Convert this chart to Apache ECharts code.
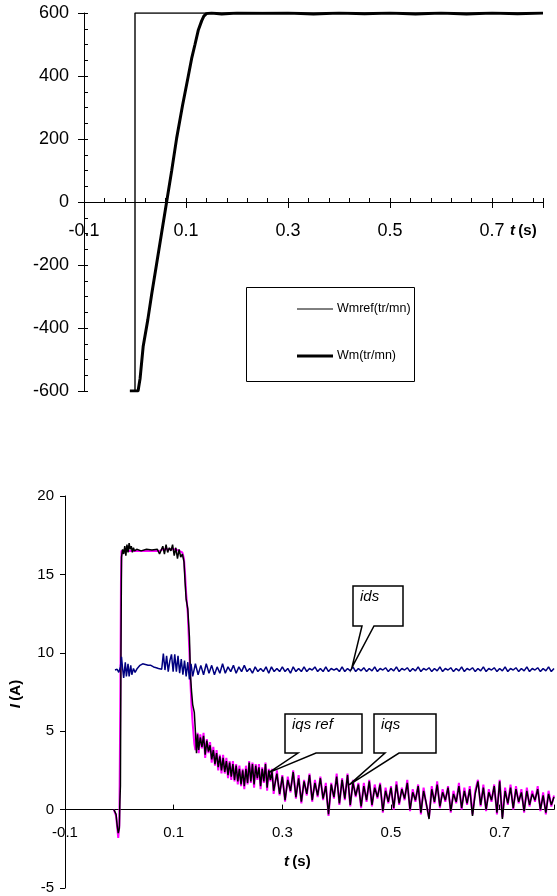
<!DOCTYPE html>
<html><head><meta charset="utf-8">
<script src="https://cdn.jsdelivr.net/npm/echarts@6/dist/echarts.min.js"></script>
<style>html,body{margin:0;padding:0;background:#fff}#c{width:557px;height:896px}</style>
</head><body><div id="c"></div>
<script>
// ---------- Top chart: speed ----------
const xTickLabels = [-0.1, 0.1, 0.3, 0.5, 0.7];
const legendNames = ['Wmref(tr/mn)', 'Wm(tr/mn)'];
const wmrefT = [-0.010, 0.000, 0.000, 0.800];
const wmrefV = [-600, -600, 600, 600];
const wmT = [-0.010, 0.006, 0.010, 0.016, 0.025, 0.033, 0.0425, 0.052, 0.062, 0.072, 0.0816, 0.093, 0.1045, 0.111, 0.1176, 0.124, 0.1307, 0.135, 0.140, 0.150, 0.170, 0.200, 0.250, 0.300, 0.350, 0.400, 0.450, 0.500, 0.550, 0.600, 0.650, 0.700, 0.750, 0.800];
const wmV = [-600, -600, -560, -459, -375, -290, -195, -100, 0, 100, 202, 305, 400, 455, 500, 545, 575, 590, 598, 600, 597, 600, 599, 600, 597, 600, 598, 600, 597, 600, 597, 600, 598, 600];

// ---------- Bottom chart: currents ----------
const idsData = [[-0.008,8.9],[-0.004,8.95],[-0.001,8.75],[0.002,9.1],[0.004,9.75],[0.006,9.0],[0.008,8.4],[0.011,9.4],[0.013,8.5],[0.016,9.3],[0.018,8.5],[0.021,9.2],[0.023,8.6],[0.026,9.0],[0.029,8.75],[0.033,9.0],[0.038,9.2],[0.043,9.3],[0.048,9.25],[0.053,9.2],[0.058,9.2],[0.063,9.1],[0.068,9.05],[0.072,9.0],[0.075,9.1],[0.078,8.95],[0.081,9.95],[0.084,8.9],[0.087,9.8],[0.090,8.8],[0.093,9.5],[0.096,9.9],[0.099,8.8],[0.102,9.9],[0.105,8.8],[0.108,9.8],[0.111,8.7],[0.114,9.6],[0.117,8.6],[0.120,9.5],[0.123,8.5],[0.126,9.4],[0.129,8.3],[0.132,9.3],[0.135,8.5],
[0.140,9.3],[0.145,8.6],[0.150,9.2],[0.155,8.6],[0.160,9.3],[0.165,8.7],[0.170,9.2],[0.175,8.6],[0.180,9.1],[0.185,8.7],[0.190,9.3],[0.195,8.7],[0.200,9.1],[0.205,8.8],[0.210,9.2],[0.215,8.7],[0.220,9.1],[0.225,8.8],[0.230,9.2],[0.235,8.8],[0.240,9.0],[0.245,8.7],[0.250,9.1],[0.255,8.8],[0.260,9.0],[0.265,8.8],[0.270,9.1],[0.275,8.7],[0.280,9.1],[0.285,8.8],[0.290,9.0],[0.295,8.8],[0.300,9.1],[0.305,8.8],[0.310,9.0],[0.315,8.7],[0.320,9.1],[0.325,8.8],[0.330,9.0],[0.335,8.8],[0.340,9.1],[0.345,8.8],[0.350,9.0],[0.355,8.9],[0.360,9.1],[0.365,8.8],[0.370,9.0],[0.375,8.8],[0.380,9.1],[0.385,8.8],[0.390,9.0],[0.395,8.9],[0.400,9.0],[0.405,8.8],[0.410,9.1],[0.415,8.8],[0.420,9.0],[0.425,8.85],[0.430,9.1],[0.435,8.8],[0.440,9.0],[0.445,8.85],[0.450,9.05],[0.455,8.8],[0.460,9.0],[0.465,8.85],[0.470,9.1],[0.475,8.8],[0.480,9.0],[0.485,8.9],[0.490,9.05],[0.495,8.8],[0.500,9.0],[0.505,8.85],[0.510,9.1],[0.515,8.8],[0.520,9.0],[0.525,8.9],[0.530,9.05],[0.535,8.8],[0.540,9.0],[0.545,8.85],[0.550,9.1],[0.555,8.8],[0.560,9.0],[0.565,8.9],[0.570,9.05],[0.575,8.8],[0.580,9.0],[0.585,8.85],[0.590,9.1],[0.595,8.8],[0.600,9.0],[0.605,8.9],[0.610,9.05],[0.615,8.8],[0.620,9.0],[0.625,8.85],[0.630,9.1],[0.635,8.8],[0.640,9.0],[0.645,8.9],[0.650,9.05],[0.655,8.8],[0.660,9.0],[0.665,8.85],[0.670,9.1],[0.675,8.8],[0.680,9.0],[0.685,8.9],[0.690,9.05],[0.695,8.8],[0.700,9.0],[0.705,8.85],[0.710,9.1],[0.715,8.8],[0.720,9.0],[0.725,8.9],[0.730,9.05],[0.735,8.8],[0.740,9.0],[0.745,8.85],[0.750,9.1],[0.755,8.8],[0.760,9.0],[0.765,8.9],[0.770,9.05],[0.775,8.8],[0.780,9.0],[0.785,8.85],[0.790,9.1],[0.795,8.8],[0.800,9.0]];

const iqsT = [-0.010,-0.006,-0.004,-0.002,0.000,0.001,0.002,0.003,0.004,0.006,0.008,0.010,0.012,0.014,0.016,0.018,0.020,0.022,0.024,0.026,0.028,0.032,0.040,0.050,0.060,0.070,0.074,0.077,0.080,0.083,0.086,0.089,0.092,0.095,0.098,0.101,0.104,0.107,0.110,0.113,0.116,0.119,0.121,0.123,0.126,0.129,0.131,0.133,0.135,0.138,0.140,0.142,0.144,0.146,0.149,0.152,0.155,0.158,0.161,0.164,0.167,0.170,0.173,0.176,0.179,0.182,0.185,0.188,0.191,0.194,0.197,0.200,0.203,0.206,0.209,0.212,0.215,0.218,0.221,0.224,0.227,0.230,0.233,0.236,0.239,0.242,0.245,0.248,0.251,0.254,0.257,0.260,0.263,0.266,0.269,0.272,0.275,0.278,0.281,0.284,
0.290,0.295,0.300,0.305,0.310,0.315,0.320,0.325,0.330,0.335,0.340,0.345,0.350,0.355,0.360,0.365,0.370,0.375,0.380,0.385,0.390,0.395,0.400,0.405,0.410,0.415,0.420,0.425,0.430,0.435,0.440,0.445,0.450,0.455,0.460,0.465,0.470,0.475,0.480,0.485,0.490,0.495,0.500,0.505,0.510,0.515,0.520,0.525,0.530,0.535,0.540,0.545,0.550,0.555,0.560,0.565,0.570,0.575,0.580,0.585,0.590,0.595,0.600,0.605,0.610,0.615,0.620,0.625,0.630,0.635,0.640,0.645,0.650,0.655,0.660,0.665,0.670,0.675,0.680,0.685,0.690,0.695,0.700,0.705,0.710,0.715,0.720,0.725,0.730,0.735,0.740,0.745,0.750,0.755,0.760,0.765,0.770,0.775,0.780,0.785,0.790,0.795,0.800];
const iqsV = [0.0,-0.3,-1.0,-1.5,-1.2,0.5,1.5,10.0,16.1,16.6,16.3,16.8,16.2,16.9,16.4,17.0,16.6,16.8,16.4,16.7,16.5,16.6,16.5,16.6,16.55,16.6,16.3,16.2,16.8,16.3,16.9,16.4,16.7,16.5,16.9,16.2,16.7,16.0,16.6,16.1,16.3,15.8,14.5,13.4,12.8,11.0,8.5,7.5,6.7,6.2,5.0,3.6,4.8,3.8,4.6,4.0,4.7,3.5,4.4,3.7,4.1,3.2,3.8,2.9,3.6,2.7,3.4,2.5,3.3,2.4,3.1,2.2,3.0,2.1,2.9,1.9,2.8,1.8,2.6,1.6,2.5,1.5,2.6,1.7,3.0,1.8,2.9,1.6,2.8,2.0,2.7,1.5,2.6,1.8,2.9,1.4,2.5,1.9,2.4,1.2,
2.3,1.0,2.1,0.6,1.9,1.2,2.4,0.8,2.0,0.5,1.8,1.0,2.2,0.6,1.7,0.9,2.0,0.7,1.5,-0.3,1.6,0.8,2.1,0.4,1.9,0.7,2.2,0.3,1.7,0.9,1.6,0.2,1.5,0.6,1.8,0.3,1.4,0.8,1.6,-0.1,1.2,0.5,1.4,0.1,1.6,0.4,1.3,0.7,1.7,0.0,1.1,0.6,1.5,-0.2,1.2,0.4,-0.6,1.3,0.5,1.6,0.2,1.1,0.6,1.4,-0.1,1.0,0.5,1.5,0.1,1.2,0.4,1.3,-0.4,1.0,1.8,0.3,1.4,0.0,1.1,0.6,1.5,-0.2,1.8,-0.6,1.2,0.4,1.4,0.1,1.3,0.5,1.1,-0.1,1.2,0.3,1.0,0.6,1.3,0.0,0.9,-0.2,1.0,0.3,0.8];
const iqsRefV = [0.0,-0.4,-1.1,-1.8,-1.0,3.3,8.0,14.5,16.5,16.5,16.5,16.5,16.5,16.6,16.5,16.6,16.5,16.5,16.5,16.5,16.5,16.5,16.5,16.5,16.5,16.5,16.5,16.5,16.6,16.5,16.6,16.5,16.6,16.5,16.6,16.5,16.6,16.5,16.5,16.5,16.4,16.0,15.0,13.8,12.5,10.0,8.0,6.5,5.5,4.2,3.8,4.0,4.9,3.6,4.8,3.9,4.9,3.3,4.5,3.6,4.3,3.0,4.0,2.8,3.8,2.5,3.5,2.3,3.5,2.3,3.3,2.0,3.1,1.9,3.1,1.8,2.9,1.6,2.8,1.5,2.6,1.3,2.8,1.6,3.1,1.7,3.0,1.4,2.9,1.9,2.9,1.3,2.7,1.7,3.0,1.2,2.6,1.8,2.6,1.0,
2.5,0.9,2.2,0.5,2.1,1.1,2.5,0.7,2.2,0.4,1.9,0.9,2.3,0.5,1.9,0.8,2.1,0.6,1.7,-0.4,1.7,0.7,2.3,0.3,2.0,0.6,2.3,0.2,1.9,0.8,1.7,0.1,1.7,0.5,1.9,0.2,1.6,0.7,1.7,-0.2,1.4,0.4,1.5,0.0,1.8,0.3,1.4,0.6,1.9,-0.1,1.3,0.5,1.6,-0.3,1.4,0.3,-0.5,1.5,0.4,1.8,0.1,1.3,0.5,1.5,-0.2,1.2,0.4,1.7,0.0,1.4,0.3,1.5,-0.3,1.2,1.9,0.2,1.6,-0.1,1.3,0.5,1.6,-0.3,1.9,-0.5,1.4,0.3,1.6,0.0,1.5,0.4,1.3,-0.2,1.4,0.2,1.2,0.5,1.5,-0.1,1.1,-0.3,1.2,0.2,0.9];

const zip = (t, v) => t.map((x, i) => [x, v[i]]);
const FONT = "'Liberation Sans', Arial, sans-serif";
const xFmt = v => xTickLabels.some(l => Math.abs(l - v) < 1e-6) ? String(Math.round(v * 10) / 10) : '';

const chart = echarts.init(document.getElementById('c'), null, {renderer: 'canvas'});
const lineAx = {show: true, lineStyle: {color: '#000', width: 1}};
const gridTop = {left: 84, right: 14, top: 13, height: 378};
const gridBot = {left: 65, right: 1.5, top: 496, height: 392};
chart.setOption({
  animation: false,
  backgroundColor: '#fff',
  grid: [gridTop, gridBot],
  xAxis: [
    {type: 'value', gridIndex: 0, min: -0.1, max: 0.8, interval: 0.2, position: 'bottom',
     axisLine: Object.assign({onZero: true}, lineAx),
     axisTick: {show: true, inside: false, length: 6, interval: (i, v) => xFmt(v) !== '', lineStyle: {color: '#000'}},
     axisLabel: {show: false}, splitLine: {show: false}},
    {type: 'value', gridIndex: 0, min: -0.1, max: 0.8, interval: 0.04, position: 'bottom',
     axisLine: {show: false, onZero: true},
     axisTick: {show: true, inside: true, length: 4, lineStyle: {color: '#000'}},
     axisLabel: {show: false}, splitLine: {show: false}},
    {type: 'value', gridIndex: 1, min: -0.1, max: 0.8, interval: 0.2, position: 'bottom',
     axisLine: Object.assign({onZero: true}, lineAx),
     axisTick: {show: true, inside: true, length: 5, lineStyle: {color: '#000'}},
     axisLabel: {show: false}, splitLine: {show: false}}
  ],
  yAxis: [
    {type: 'value', gridIndex: 0, min: -600, max: 600, interval: 200, position: 'left',
     axisLine: Object.assign({onZero: false}, lineAx),
     axisTick: {show: true, inside: false, length: 6, lineStyle: {color: '#000'}},
     axisLabel: {fontFamily: FONT, fontSize: 18, color: '#000', margin: 15},
     splitLine: {show: false}},
    {type: 'value', gridIndex: 0, min: -600, max: 600, interval: 50, position: 'left',
     axisLine: {show: false, onZero: false},
     axisTick: {show: true, inside: true, length: 4, lineStyle: {color: '#000'}},
     axisLabel: {show: false}, splitLine: {show: false}},
    {type: 'value', gridIndex: 1, min: -5, max: 20, interval: 5, position: 'left',
     axisLine: Object.assign({onZero: false}, lineAx),
     axisTick: {show: true, inside: false, length: 5, lineStyle: {color: '#000'}},
     axisLabel: {fontFamily: FONT, fontSize: 15, color: '#000', margin: 11},
     splitLine: {show: false}}
  ],
  series: [
    {name: legendNames[0], type: 'line', xAxisIndex: 0, yAxisIndex: 0, data: zip(wmrefT, wmrefV),
     symbol: 'none', lineStyle: {color: '#000', width: 1.4}, itemStyle: {color: '#000'}},
    {name: legendNames[1], type: 'line', xAxisIndex: 0, yAxisIndex: 0, data: zip(wmT, wmV),
     symbol: 'none', lineStyle: {color: '#000', width: 3}, itemStyle: {color: '#000'}},
    {name: 'iqs ref', type: 'line', xAxisIndex: 2, yAxisIndex: 2, data: zip(iqsT, iqsRefV),
     symbol: 'none', lineStyle: {color: '#ff00ff', width: 2}, itemStyle: {color: '#ff00ff'}},
    {name: 'iqs', type: 'line', xAxisIndex: 2, yAxisIndex: 2, data: zip(iqsT, iqsV),
     symbol: 'none', lineStyle: {color: '#000', width: 1.5}, itemStyle: {color: '#000'}},
    {name: 'ids', type: 'line', xAxisIndex: 2, yAxisIndex: 2, data: idsData,
     symbol: 'none', lineStyle: {color: '#000080', width: 1.5}, itemStyle: {color: '#000080'}}
  ]
});

// label-only x axes placed on the zero line of each chart
const offTop = chart.convertToPixel({yAxisIndex: 0}, 0) - chart.convertToPixel({yAxisIndex: 0}, -600);
const offBot = chart.convertToPixel({yAxisIndex: 2}, 0) - chart.convertToPixel({yAxisIndex: 2}, -5);
chart.setOption({
  xAxis: [{}, {}, {},
    {type: 'value', gridIndex: 0, min: -0.1, max: 0.8, interval: 0.2, position: 'bottom', offset: offTop,
     axisLine: {show: false, onZero: false}, axisTick: {show: false}, splitLine: {show: false},
     axisLabel: {formatter: xFmt, fontFamily: FONT, fontSize: 18, color: '#000', margin: 20}},
    {type: 'value', gridIndex: 1, min: -0.1, max: 0.8, interval: 0.2, position: 'bottom', offset: offBot,
     axisLine: {show: false, onZero: false}, axisTick: {show: false}, splitLine: {show: false},
     axisLabel: {formatter: xFmt, fontFamily: FONT, fontSize: 15, color: '#000', margin: 16}}
  ]
});

// callouts anchored on data points
const callouts = [
  {text: 'ids', tip: [0.428, 9.05], box: [353, 586, 403, 626], base: [362, 374]},
  {text: 'iqs ref', tip: [0.275, 2.36], box: [285, 714, 362, 753], base: [298, 316]},
  {text: 'iqs', tip: [0.423, 1.58], box: [374, 714, 436, 753], base: [385, 399]}
];
const g = [];
callouts.forEach(c => {
  const p = chart.convertToPixel({xAxisIndex: 2, yAxisIndex: 2}, c.tip);
  const [x0, y0, x1, y1] = c.box;
  g.push({type: 'polygon', z: 100,
    shape: {points: [[x0, y0], [x1, y0], [x1, y1], [c.base[1], y1], p, [c.base[0], y1], [x0, y1]]},
    style: {fill: '#fff', stroke: '#000', lineWidth: 1.5}});
  g.push({type: 'text', z: 101, x: x0 + 7, y: y0 + 11,
    style: {text: c.text, font: 'italic 15px ' + FONT, fill: '#000', verticalAlign: 'middle'}});
});
// legend box (top chart)
g.push({type: 'rect', z: 100, shape: {x: 246.5, y: 287.5, width: 168, height: 94},
  style: {fill: '#fff', stroke: '#000', lineWidth: 1}});
[[309, 1], [356, 3]].forEach(([y, w], i) => {
  g.push({type: 'line', z: 101, shape: {x1: 297, y1: y, x2: 333, y2: y}, style: {stroke: '#000', lineWidth: w}});
  g.push({type: 'text', z: 101, x: 337, y: y,
    style: {text: legendNames[i], font: '12.5px ' + FONT, fill: '#000', verticalAlign: 'middle'}});
});
g.push({type: 'text', z: 101, x: 510, y: 231,
  style: {rich: {a: {font: 'italic bold 15px ' + FONT}, b: {font: 'bold 15px ' + FONT}}, text: '{a|t} {b|(s)}', fill: '#000', verticalAlign: 'middle'}});
g.push({type: 'text', z: 101, x: 284, y: 862,
  style: {rich: {a: {font: 'italic bold 15px ' + FONT}, b: {font: 'bold 15px ' + FONT}}, text: '{a|t} {b|(s)}', fill: '#000', verticalAlign: 'middle'}});
g.push({type: 'text', z: 101, x: 16, y: 694, rotation: Math.PI / 2,
  style: {rich: {a: {font: 'italic bold 15px ' + FONT}, b: {font: 'bold 15px ' + FONT}}, text: '{a|I} {b|(A)}', fill: '#000', align: 'center', verticalAlign: 'middle'}});
chart.setOption({graphic: g});
</script>
</body></html>
